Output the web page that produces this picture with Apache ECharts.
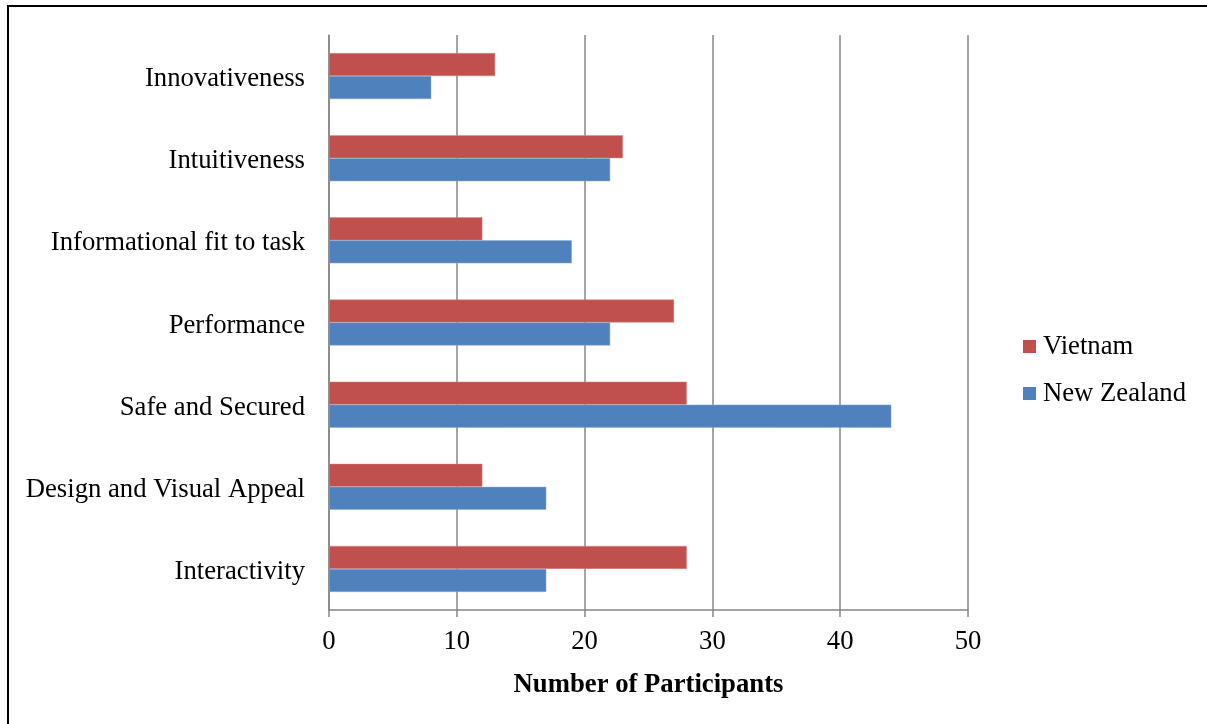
<!DOCTYPE html>
<html>
<head>
<meta charset="utf-8">
<script src="https://cdn.jsdelivr.net/npm/echarts@6/dist/echarts.min.js"></script>
<style>
  html, body { margin: 0; padding: 0; background: #fff; }
  #chart { width: 1207px; height: 724px; }
</style>
</head>
<body>
<div id="chart"></div>
<script>
// Categories listed bottom to top (value axis origin at the bottom)
const categories = [
  'Interactivity',
  'Design and Visual Appeal',
  'Safe and Secured',
  'Performance',
  'Informational fit to task',
  'Intuitiveness',
  'Innovativeness'
];
const vietnam = [28, 12, 28, 27, 12, 23, 13];
const newZealand = [17, 17, 44, 22, 19, 22, 8];
const xTicks = { min: 0, max: 50, interval: 10 };

const FONT = '"Liberation Serif", "Times New Roman", serif';
const FONT_SIZE = 26.7;
const GRID_COLOR = '#878787';

const chart = echarts.init(document.getElementById('chart'));
chart.setOption({
  backgroundColor: '#ffffff',
  animation: false,
  textStyle: { fontFamily: FONT, color: '#000' },
  graphic: [{
    type: 'rect',
    shape: { x: 8, y: 6, width: 1400, height: 900 },
    style: { fill: 'none', stroke: '#000', lineWidth: 2 },
    silent: true
  }],
  grid: { left: 329, right: 239, top: 35, bottom: 114 },
  legend: {
    orient: 'vertical',
    left: 1018,
    top: 328,
    itemWidth: 13,
    itemHeight: 13,
    itemGap: 20,
    icon: 'rect',
    itemStyle: { borderWidth: 0 },
    data: ['Vietnam', 'New Zealand'],
    textStyle: { fontFamily: FONT, fontSize: FONT_SIZE, color: '#000', padding: [0, 0, 0, 2] }
  },
  xAxis: {
    type: 'value',
    min: xTicks.min,
    max: xTicks.max,
    interval: xTicks.interval,
    name: 'Number of Participants',
    nameLocation: 'middle',
    nameGap: 62,
    nameTextStyle: { fontFamily: FONT, fontSize: FONT_SIZE, fontWeight: 'bold', color: '#000' },
    axisLine: { show: true, lineStyle: { color: GRID_COLOR, width: 1.5 } },
    axisTick: { show: true, length: 7, lineStyle: { color: GRID_COLOR, width: 1.5 } },
    axisLabel: { fontFamily: FONT, fontSize: FONT_SIZE, color: '#000', margin: 18 },
    splitLine: { show: true, lineStyle: { color: GRID_COLOR, width: 1.5 } }
  },
  yAxis: {
    type: 'category',
    data: categories,
    axisLine: { show: true, lineStyle: { color: GRID_COLOR, width: 1.5 } },
    axisTick: { show: false },
    axisLabel: {
      margin: 24,
      formatter: (v) => '{c|' + v + '}',
      rich: {
        c: { fontFamily: FONT, fontSize: FONT_SIZE, color: '#000', padding: [6, 0, 0, 0] }
      }
    }
  },
  series: [
    {
      name: 'Vietnam',
      type: 'bar',
      data: vietnam,
      barWidth: 23,
      barGap: '0%',
      itemStyle: { color: '#C0504D', borderColor: '#D88A88', borderWidth: 0.5 }
    },
    {
      name: 'New Zealand',
      type: 'bar',
      data: newZealand,
      barWidth: 23,
      barGap: '0%',
      itemStyle: { color: '#4F81BD', borderColor: '#8EAADB', borderWidth: 0.5 }
    }
  ]
});
</script>
</body>
</html>
